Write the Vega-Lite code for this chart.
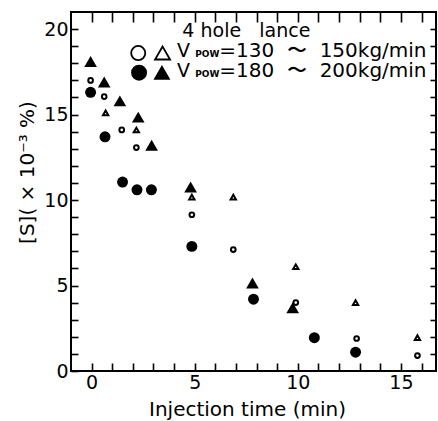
{
  "$schema": "https://vega.github.io/schema/vega-lite/v6.json",
  "width": 365,
  "height": 359,
  "autosize": {"type": "none"},
  "padding": {"left": 71, "top": 12, "right": 2, "bottom": 50},
  "background": "white",
  "config": {
    "view": {"stroke": "black", "strokeWidth": 2},
    "font": "DejaVu Sans",
    "axis": {"grid": false, "domain": false, "tickColor": "black", "tickWidth": 1.6, "labelColor": "black", "titleColor": "black", "labelFont": "DejaVu Sans", "titleFont": "DejaVu Sans", "labelFontSize": 19, "titleFontSize": 20, "titleFontWeight": "normal"}
  },
  "data": {"values": [
    {"series": "oc", "t": -0.05, "s": 17.0},
    {"series": "oc", "t": 0.61, "s": 16.05},
    {"series": "oc", "t": 1.46, "s": 14.1},
    {"series": "oc", "t": 2.17, "s": 13.07},
    {"series": "oc", "t": 4.86, "s": 9.14},
    {"series": "oc", "t": 6.87, "s": 7.1},
    {"series": "oc", "t": 9.9, "s": 4.0},
    {"series": "oc", "t": 12.85, "s": 1.9},
    {"series": "oc", "t": 15.8, "s": 0.9},
    {"series": "ot", "t": 0.68, "s": 15.1},
    {"series": "ot", "t": 2.17, "s": 14.1},
    {"series": "ot", "t": 4.86, "s": 10.17},
    {"series": "ot", "t": 6.87, "s": 10.17},
    {"series": "ot", "t": 9.9, "s": 6.1},
    {"series": "ot", "t": 12.8, "s": 4.0},
    {"series": "ot", "t": 15.8, "s": 1.95},
    {"series": "fc", "t": -0.05, "s": 16.3},
    {"series": "fc", "t": 0.65, "s": 13.7},
    {"series": "fc", "t": 1.5, "s": 11.05},
    {"series": "fc", "t": 2.2, "s": 10.6},
    {"series": "fc", "t": 2.9, "s": 10.6},
    {"series": "fc", "t": 4.86, "s": 7.29},
    {"series": "fc", "t": 7.85, "s": 4.2},
    {"series": "fc", "t": 10.8, "s": 1.95},
    {"series": "fc", "t": 12.8, "s": 1.1},
    {"series": "ft", "t": -0.05, "s": 18.1},
    {"series": "ft", "t": 0.61, "s": 16.9},
    {"series": "ft", "t": 1.37, "s": 15.8},
    {"series": "ft", "t": 2.26, "s": 14.85},
    {"series": "ft", "t": 2.91, "s": 13.2},
    {"series": "ft", "t": 4.8, "s": 10.76},
    {"series": "ft", "t": 7.8, "s": 5.15},
    {"series": "ft", "t": 9.75, "s": 3.7}
  ]},
  "layer": [
    {
      "transform": [{"filter": "datum.series === 'oc'"}],
      "mark": {"type": "point", "shape": "circle", "filled": false, "stroke": "black", "strokeWidth": 2, "size": 22, "opacity": 1},
      "encoding": {
        "x": {"field": "t", "type": "quantitative", "scale": {"domain": [-1, 16.7], "nice": false, "zero": false},
          "axis": {"orient": "bottom", "title": "Injection time (min)", "values": [0,1,2,3,4,5,6,7,8,9,10,11,12,13,14,15,16], "labelExpr": "datum.value % 5 === 0 ? datum.label : ''", "tickSize": -8, "labelPadding": 10, "labelBaseline": "top", "titleX": 176, "titleY": 44, "titleBaseline": "alphabetic"}},
        "y": {"field": "s", "type": "quantitative", "scale": {"domain": [0, 21], "nice": false},
          "axis": {"orient": "left", "title": "[S]( × 10⁻³ %)", "values": [0,1,2,3,4,5,6,7,8,9,10,11,12,13,14,15,16,17,18,19,20], "labelExpr": "datum.value % 5 === 0 ? datum.label : ''", "tickSize": -7, "labelPadding": 10, "titleX": -34, "titleY": 160}}
      }
    },
    {
      "transform": [{"filter": "datum.series === 'ot'"}],
      "mark": {"type": "point", "shape": "triangle-up", "filled": false, "stroke": "black", "strokeWidth": 2, "size": 28, "opacity": 1},
      "encoding": {
        "x": {"field": "t", "type": "quantitative", "scale": {"domain": [-1, 16.7], "nice": false, "zero": false},
          "axis": {"orient": "top", "title": null, "labels": false, "values": [0,1,2,3,4,5,6,7,8,9,10,11,12,13,14,15,16], "tickSize": -10}},
        "y": {"field": "s", "type": "quantitative", "scale": {"domain": [0, 21], "nice": false},
          "axis": {"orient": "right", "title": null, "labels": false, "values": [1,2,3,4,5,6,7,8,9,10,11,12,13,14,15,16,17,18,19,20], "tickSize": -6}}
      }
    },
    {
      "transform": [{"filter": "datum.series === 'fc'"}],
      "mark": {"type": "point", "shape": "circle", "filled": true, "fill": "black", "size": 120, "opacity": 1},
      "encoding": {
        "x": {"field": "t", "type": "quantitative", "axis": null},
        "y": {"field": "s", "type": "quantitative", "axis": null}
      }
    },
    {
      "transform": [{"filter": "datum.series === 'ft'"}],
      "mark": {"type": "point", "shape": "triangle-up", "filled": true, "fill": "black", "size": 160, "opacity": 1},
      "encoding": {
        "x": {"field": "t", "type": "quantitative", "axis": null},
        "y": {"field": "s", "type": "quantitative", "axis": null}
      }
    },
    {
      "data": {"values": [{}]},
      "mark": {"type": "point", "shape": "circle", "filled": false, "stroke": "black", "strokeWidth": 1.8, "size": 200, "opacity": 1},
      "encoding": {"x": {"datum": 2.26, "type": "quantitative", "axis": null}, "y": {"datum": 18.6, "type": "quantitative", "axis": null}}
    },
    {
      "data": {"values": [{}]},
      "mark": {"type": "point", "shape": "triangle-up", "filled": false, "stroke": "black", "strokeWidth": 1.8, "size": 225, "opacity": 1},
      "encoding": {"x": {"datum": 3.44, "type": "quantitative", "axis": null}, "y": {"datum": 18.6, "type": "quantitative", "axis": null}}
    },
    {
      "data": {"values": [{}]},
      "mark": {"type": "point", "shape": "circle", "filled": true, "fill": "black", "size": 254, "opacity": 1},
      "encoding": {"x": {"datum": 2.3, "type": "quantitative", "axis": null}, "y": {"datum": 17.45, "type": "quantitative", "axis": null}}
    },
    {
      "data": {"values": [{}]},
      "mark": {"type": "point", "shape": "triangle-up", "filled": true, "fill": "black", "size": 289, "opacity": 1},
      "encoding": {"x": {"datum": 3.41, "type": "quantitative", "axis": null}, "y": {"datum": 17.47, "type": "quantitative", "axis": null}}
    },
    {
      "data": {"values": [{"label": "4 hole\u00a0\u00a0\u00a0lance"}]},
      "mark": {"type": "text", "align": "left", "baseline": "alphabetic", "font": "DejaVu Sans", "fontSize": 19, "color": "black"},
      "encoding": {"x": {"datum": 4.4, "type": "quantitative", "axis": null}, "y": {"datum": 19.52, "type": "quantitative", "axis": null}, "text": {"field": "label"}}
    },
    {
      "data": {"values": [{"label": "V"}]},
      "mark": {"type": "text", "align": "left", "baseline": "alphabetic", "font": "DejaVu Sans", "fontSize": 19, "color": "black"},
      "encoding": {"x": {"datum": 4.14, "type": "quantitative", "axis": null}, "y": {"datum": 18.35, "type": "quantitative", "axis": null}, "text": {"field": "label"}}
    },
    {
      "data": {"values": [{"label": "POW"}]},
      "mark": {"type": "text", "align": "left", "baseline": "alphabetic", "font": "DejaVu Sans", "fontSize": 9, "fontWeight": "bold", "color": "black"},
      "encoding": {"x": {"datum": 5.02, "type": "quantitative", "axis": null}, "y": {"datum": 18.35, "type": "quantitative", "axis": null}, "text": {"field": "label"}}
    },
    {
      "data": {"values": [{"label": "=130\u00a0\u00a0〜\u00a0\u00a0150kg/min"}]},
      "mark": {"type": "text", "align": "left", "baseline": "alphabetic", "font": "DejaVu Sans", "fontSize": 20, "color": "black"},
      "encoding": {"x": {"datum": 6.19, "type": "quantitative", "axis": null}, "y": {"datum": 18.35, "type": "quantitative", "axis": null}, "text": {"field": "label"}}
    },
    {
      "data": {"values": [{"label": "V"}]},
      "mark": {"type": "text", "align": "left", "baseline": "alphabetic", "font": "DejaVu Sans", "fontSize": 19, "color": "black"},
      "encoding": {"x": {"datum": 4.14, "type": "quantitative", "axis": null}, "y": {"datum": 17.18, "type": "quantitative", "axis": null}, "text": {"field": "label"}}
    },
    {
      "data": {"values": [{"label": "POW"}]},
      "mark": {"type": "text", "align": "left", "baseline": "alphabetic", "font": "DejaVu Sans", "fontSize": 9, "fontWeight": "bold", "color": "black"},
      "encoding": {"x": {"datum": 5.02, "type": "quantitative", "axis": null}, "y": {"datum": 17.18, "type": "quantitative", "axis": null}, "text": {"field": "label"}}
    },
    {
      "data": {"values": [{"label": "=180\u00a0\u00a0〜\u00a0\u00a0200kg/min"}]},
      "mark": {"type": "text", "align": "left", "baseline": "alphabetic", "font": "DejaVu Sans", "fontSize": 20, "color": "black"},
      "encoding": {"x": {"datum": 6.19, "type": "quantitative", "axis": null}, "y": {"datum": 17.18, "type": "quantitative", "axis": null}, "text": {"field": "label"}}
    }
  ],
  "resolve": {"axis": {"x": "independent", "y": "independent"}}
}
